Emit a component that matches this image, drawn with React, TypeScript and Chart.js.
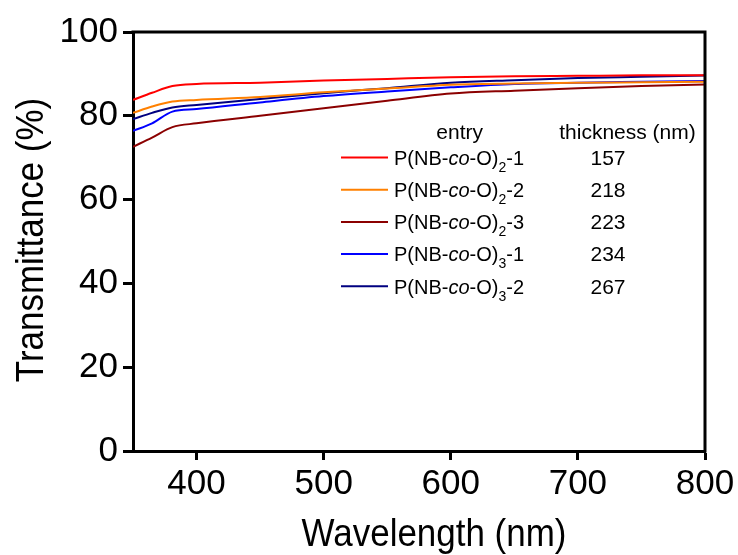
import { useEffect, useRef } from "react";
import { Chart, registerables } from "chart.js";

Chart.register(...registerables);

const FONT = "'Liberation Sans', Arial, sans-serif";

// Data
const wavelengths = [350, 365, 381, 400, 450, 500, 550, 600, 650, 700, 750, 800];
const seriesA = [83.8, 85.5, 87.1, 87.6, 87.9, 88.4, 88.8, 89.2, 89.45, 89.55, 89.65, 89.7];
const seriesB = [80.7, 82.2, 83.4, 83.8, 84.5, 85.6, 86.5, 87.4, 87.7, 87.9, 88.0, 88.1];
const seriesC = [72.6, 74.8, 77.3, 78.2, 80.0, 81.8, 83.6, 85.3, 86.0, 86.6, 87.1, 87.5];
const seriesD = [76.4, 78.2, 81.0, 81.6, 83.2, 84.7, 85.8, 86.8, 87.6, 87.9, 88.1, 88.3];
const seriesE = [79.2, 80.7, 82.0, 82.6, 84.0, 85.4, 86.6, 87.9, 88.5, 89.0, 89.3, 89.6];

const seriesSubscript = ["2", "2", "2", "3", "3"];
const seriesNumber = ["1", "2", "3", "1", "2"];
const thickness = ["157", "218", "223", "234", "267"];
const seriesColors = ["#FF0000", "#FF8000", "#8B0000", "#0000FF", "#000080"];
const allSeries = [seriesA, seriesB, seriesC, seriesD, seriesE];

const xTicks = [400, 500, 600, 700, 800];
const yTicks = [0, 20, 40, 60, 80, 100];
const xTitle = "Wavelength (nm)";
const yTitle = "Transmittance (%)";

const framePlugin = {
  id: "frameAndTable",
  afterDraw(chart: any) {
    const { ctx, chartArea } = chart;
    const { left, top, right, bottom } = chartArea;
    ctx.save();
    ctx.strokeStyle = "#000";
    ctx.lineWidth = 3;
    ctx.lineCap = "square";
    ctx.beginPath();
    ctx.moveTo(left, top);
    ctx.lineTo(right, top);
    ctx.lineTo(right, bottom);
    ctx.stroke();

    // axis titles (slightly condensed, like the reference)
    ctx.fillStyle = "#000";
    ctx.textBaseline = "alphabetic";
    ctx.textAlign = "center";
    ctx.font = `38px ${FONT}`;
    ctx.save();
    ctx.translate(left + 301, bottom + 95);
    ctx.scale(0.92, 1);
    ctx.fillText(xTitle, 0, 0);
    ctx.restore();
    ctx.save();
    ctx.translate(43, (top + bottom) / 2 - 1.5);
    ctx.rotate(-Math.PI / 2);
    ctx.scale(0.92, 1);
    ctx.fillText(yTitle, 0, 0);
    ctx.restore();

    // table-style legend
    ctx.font = `21px ${FONT}`;
    const headY = top + 106.7;
    ctx.fillText("entry", left + 326.7, headY);
    ctx.fillText("thickness (nm)", left + 494.5, headY);

    const rowStart = 125.5;
    const rowStep = 32.2;
    chart.data.datasets.forEach((ds: any, i: number) => {
      const y = top + rowStart + rowStep * i;
      ctx.strokeStyle = ds.borderColor;
      ctx.lineWidth = 2;
      ctx.lineCap = "butt";
      ctx.beginPath();
      ctx.moveTo(left + 208, y);
      ctx.lineTo(left + 255, y);
      ctx.stroke();

      const base = y + 7.3;
      const parts = [
        { t: "P(NB-", f: `20px ${FONT}`, dy: 0 },
        { t: "co", f: `italic 20px ${FONT}`, dy: 0 },
        { t: "-O)", f: `20px ${FONT}`, dy: 0 },
        { t: seriesSubscript[i], f: `14px ${FONT}`, dy: 7 },
        { t: "-" + seriesNumber[i], f: `20px ${FONT}`, dy: 0 },
      ];
      ctx.textAlign = "left";
      let cx = left + 261;
      for (const p of parts) {
        ctx.font = p.f;
        ctx.fillText(p.t, cx, base + p.dy);
        cx += ctx.measureText(p.t).width;
      }
      ctx.textAlign = "center";
      ctx.font = `21px ${FONT}`;
      ctx.fillText(thickness[i], left + 475, base);
    });
    ctx.restore();
  },
};

export default function App() {
  const ref = useRef<HTMLCanvasElement | null>(null);

  useEffect(() => {
    if (!ref.current) return;
    const datasets = allSeries.map((s, i) => ({
      label: `P(NB-co-O)${seriesSubscript[i]}-${seriesNumber[i]}`,
      data: wavelengths.map((w, j) => ({ x: w, y: s[j] })),
      borderColor: seriesColors[i],
      backgroundColor: seriesColors[i],
      borderWidth: 2,
      pointRadius: 0,
      fill: false,
      cubicInterpolationMode: "monotone" as const,
    }));

    const chart = new Chart(ref.current, {
      type: "line",
      data: { datasets },
      options: {
        responsive: false,
        animation: false,
        layout: { padding: { top: 32, right: 33, left: 0, bottom: 0 } },
        plugins: { legend: { display: false }, tooltip: { enabled: false } },
        scales: {
          x: {
            type: "linear",
            min: 350,
            max: 800,
            afterBuildTicks: (s: any) => {
              s.ticks = xTicks.map((v) => ({ value: v }));
            },
            afterFit: (s: any) => {
              s.height = 104;
            },
            grid: {
              drawOnChartArea: false,
              drawTicks: true,
              tickLength: 9,
              tickWidth: 3,
              tickColor: "#000",
            },
            border: { display: true, width: 3, color: "#000" },
            ticks: {
              color: "#000",
              font: { family: FONT, size: 35 },
              padding: 3,
              maxRotation: 0,
              autoSkip: false,
            },
            title: { display: false },
          },
          y: {
            min: 0,
            max: 100,
            afterBuildTicks: (s: any) => {
              s.ticks = yTicks.map((v) => ({ value: v }));
            },
            afterFit: (s: any) => {
              s.width = 133;
            },
            grid: {
              drawOnChartArea: false,
              drawTicks: true,
              tickLength: 10,
              tickWidth: 3,
              tickColor: "#000",
            },
            border: { display: true, width: 3, color: "#000" },
            ticks: {
              color: "#000",
              font: { family: FONT, size: 35 },
              padding: 5,
            },
            title: { display: false },
          },
        },
      },
      plugins: [framePlugin],
    });
    return () => chart.destroy();
  }, []);

  return (
    <div style={{ position: "fixed", left: 0, top: 0, width: 738, height: 555, background: "#fff" }}>
      <canvas ref={ref} width={738} height={555} style={{ display: "block" }} />
    </div>
  );
}
